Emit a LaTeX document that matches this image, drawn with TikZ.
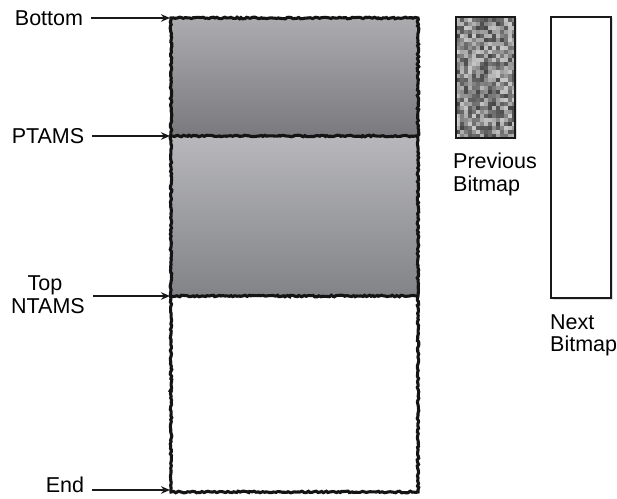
\documentclass[tikz,border=0pt]{standalone}
\usepackage{fontspec}
\setmainfont{Liberation Sans}
\usetikzlibrary{decorations.pathmorphing,shadows,arrows.meta}
\begin{document}
\begin{tikzpicture}[x=1pt,y=1pt,
  lbl/.style={font=\fontsize{21.5}{25}\selectfont, inner sep=0pt},
  ptr/.style={-{Stealth[length=9pt,width=7.5pt]}, line width=1.8pt, black!90},
  rough/.style={draw=black!92, line width=3.1pt, decorate,
     decoration={random steps, segment length=2pt, amplitude=0.8pt}},
  bmp/.style={draw=black!90, line width=2.8pt, drop shadow={opacity=0.25, shadow xshift=1.5pt, shadow yshift=-1.5pt}}
]
\useasboundingbox (0,0) rectangle (617,498);
% shaded regions
\shade[top color={rgb,255:red,172;green,172;blue,175}, bottom color={rgb,255:red,122;green,122;blue,126}]
  (171,480) rectangle (418,362);
\shade[top color={rgb,255:red,184;green,184;blue,188}, bottom color={rgb,255:red,130;green,131;blue,135}]
  (171,362) rectangle (418,202);
% rough outline
\pgfmathsetseed{7}
\draw[rough] (171,480) -- (418,480) -- (418,6) -- (171,6) -- cycle;
\draw[rough] (171,362) -- (418,362);
\draw[rough] (171,202) -- (418,202);
\coordinate (cB) at (170,480);
\coordinate (cP) at (170,362);
\coordinate (cN) at (170,202);
\coordinate (cE) at (170,8);
% labels
\node[lbl] (bottom) at (49,480) {Bottom};
\node[lbl] (ptams) at (48,362) {PTAMS};
\node[lbl] (top) at (45,213) {Top};
\node[lbl] (ntams) at (48,192) {NTAMS};
\node[lbl] (end) at (65,13) {End};
\draw[ptr] (bottom.east) ++(8,0) coordinate (sB) -- (cB);
\draw[ptr] (ptams.east) ++(8,0) coordinate (sP) -- (cP);
\draw[ptr] (ntams.east |- cN) ++(8,0) coordinate (sN) -- (cN);
\draw[ptr] (end.east |- cE) ++(8,0) coordinate (sE) -- (cE);
% previous bitmap (noise)
\pgfmathsetseed{42}
\begin{scope}
\clip (456,360) rectangle (515,481);
\foreach \i in {0,...,14} {
  \foreach \j in {0,...,30} {
    \pgfmathsetmacro{\g}{int(random(12,80))}
    \fill[black!\g!white] ({456+4*\i},{360+4*\j}) rectangle ++(4.2,4.2);
  }
}
\end{scope}
\node[bmp, minimum width=59pt, minimum height=121pt, inner sep=0pt] (prev) at (485.5,420.5) {};
\node[lbl, anchor=west] (prevt1) at (453,337) {Previous};
\node[lbl, anchor=west] (prevt2) at (453,312) {Bitmap};
% next bitmap
\node[bmp, fill=white, minimum width=60pt, minimum height=281pt, inner sep=0pt] (next) at (581,340.5) {};
\node[lbl, anchor=west] (nextt1) at (550,176) {Next};
\node[lbl, anchor=west] (nextt2) at (550,152) {Bitmap};
\end{tikzpicture}
\end{document}
